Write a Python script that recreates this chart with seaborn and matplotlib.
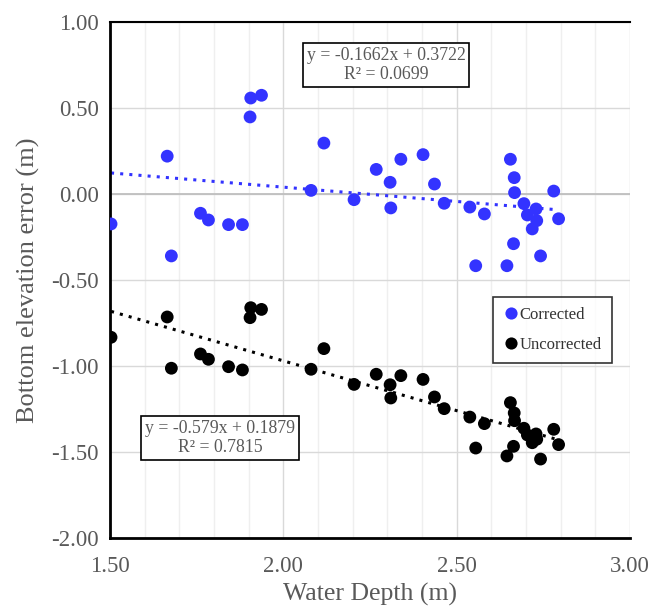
import numpy as np
import pandas as pd
import matplotlib
matplotlib.use("Agg")
import matplotlib.pyplot as plt
import seaborn as sns

# ---- data ----
depth = [1.503, 1.665, 1.677, 1.761, 1.784, 1.842, 1.882, 1.904, 1.906, 1.937,
         2.080, 2.117, 2.204, 2.268, 2.308, 2.310, 2.339, 2.403, 2.436, 2.464,
         2.538, 2.580, 2.555, 2.645, 2.655, 2.666, 2.667, 2.664, 2.694, 2.704,
         2.729, 2.731, 2.718, 2.742, 2.780, 2.794]
corrected = [-0.174, 0.220, -0.360, -0.112, -0.151, -0.178, -0.178, 0.448, 0.558, 0.574,
             0.021, 0.296, -0.033, 0.143, 0.068, -0.081, 0.202, 0.229, 0.058, -0.054,
             -0.076, -0.116, -0.417, -0.417, 0.202, 0.095, 0.008, -0.289, -0.056, -0.122,
             -0.087, -0.155, -0.203, -0.360, 0.017, -0.144]
uncorrected = [-0.833, -0.715, -1.013, -0.930, -0.961, -1.004, -1.023, -0.719, -0.661, -0.671,
               -1.019, -0.899, -1.107, -1.048, -1.109, -1.186, -1.056, -1.078, -1.180, -1.248,
               -1.297, -1.335, -1.477, -1.523, -1.213, -1.273, -1.318, -1.467, -1.362, -1.401,
               -1.395, -1.426, -1.446, -1.541, -1.368, -1.457]
series_names = ["Corrected", "Uncorrected"]
series_colors = ["#3333FF", "#000000"]
trend_slope = [-0.1662, -0.579]
trend_intercept = [0.3722, 0.1879]
trend_r2 = [0.0699, 0.7815]
x_ticks = [1.50, 2.00, 2.50, 3.00]
y_ticks = [1.00, 0.50, 0.00, -0.50, -1.00, -1.50, -2.00]

# ---- build table ----
df = pd.DataFrame({
    "depth": depth * 2,
    "error": corrected + uncorrected,
    "series": [series_names[0]] * len(depth) + [series_names[1]] * len(depth),
})

sns.set_style("white")
plt.rcParams["font.family"] = ["Liberation Serif", "DejaVu Serif"]

fig = plt.figure(figsize=(6.5, 6.07), dpi=100)
L, R, T, B = 110, 630, 22, 538
ax = fig.add_axes([L / 650, 1 - B / 607, (R - L) / 650, (B - T) / 607])

def ax_x(px):
    return (px - L) / (R - L)

def ax_y(py):
    return (B - py) / (B - T)

# gridlines
for xv in np.arange(1.5, 3.0001, 0.1):
    major = abs((xv * 2) - round(xv * 2)) < 1e-6
    ax.axvline(xv, color="#d9d9d9" if major else "#efefef", lw=1.0, zorder=0)
for yv in y_ticks:
    ax.axhline(yv, color="#d9d9d9", lw=1.0, zorder=0)
ax.axhline(0.0, color="#bfbfbf", lw=1.3, zorder=0.5)

# trendlines
for i, name in enumerate(series_names):
    xs = np.array([min(depth), max(depth)])
    line_df = pd.DataFrame({"x": xs, "y": trend_slope[i] * xs + trend_intercept[i]})
    sns.lineplot(data=line_df, x="x", y="y", ax=ax, color=series_colors[i],
                 linestyle=(0, (1, 2)), lw=2.2, zorder=2, legend=False)

sns.scatterplot(data=df, x="depth", y="error", hue="series",
                palette=dict(zip(series_names, series_colors)),
                s=85, edgecolor="none", ax=ax, zorder=3)

ax.set_xlim(1.5, 3.0)
ax.set_ylim(-2.0, 1.0)
ax.set_xticks(x_ticks)
ax.set_xticklabels([f"{v:.2f}" for v in x_ticks])
ax.set_yticks(y_ticks)
ax.set_yticklabels([f"{v:.2f}" for v in y_ticks])
ax.tick_params(axis="both", labelsize=16.5, labelcolor="#595959", length=0, pad=8)
ax.tick_params(axis="x", pad=13)

ax.set_xlabel("Water Depth (m)", fontsize=18.5, color="#595959", labelpad=4)
ax.set_ylabel("Bottom elevation error (m)", fontsize=19, color="#595959", labelpad=8)

for side in ["left", "bottom", "top"]:
    ax.spines[side].set_color("black")
    ax.spines[side].set_linewidth(2.0)
ax.spines["top"].set_linewidth(1.5)
ax.spines["right"].set_visible(False)

# legend
leg = ax.legend(loc="upper left", bbox_to_anchor=(ax_x(493), ax_y(297)),
                borderaxespad=0, fontsize=12, frameon=True, fancybox=False,
                handletextpad=0.0, handlelength=1.0, labelspacing=0.85,
                borderpad=0.6, markerscale=0.95, title=None)
leg.get_frame().set_edgecolor("black")
leg.get_frame().set_linewidth(1.2)
for t in leg.get_texts():
    t.set_color("#333333")

# equation boxes
eq_pos = [(ax_x(386), ax_y(65)), (ax_x(220), ax_y(438))]
for i in range(2):
    txt = f"y = {trend_slope[i]}x + {trend_intercept[i]}\nR\u00b2 = {trend_r2[i]}"
    ax.text(eq_pos[i][0], eq_pos[i][1], txt, transform=ax.transAxes,
            ha="center", va="center", fontsize=12.8, color="#595959",
            linespacing=1.2,
            bbox=dict(boxstyle="square,pad=0.2", fc="white", ec="black", lw=1.2))

fig.savefig("out.png", dpi=100)
